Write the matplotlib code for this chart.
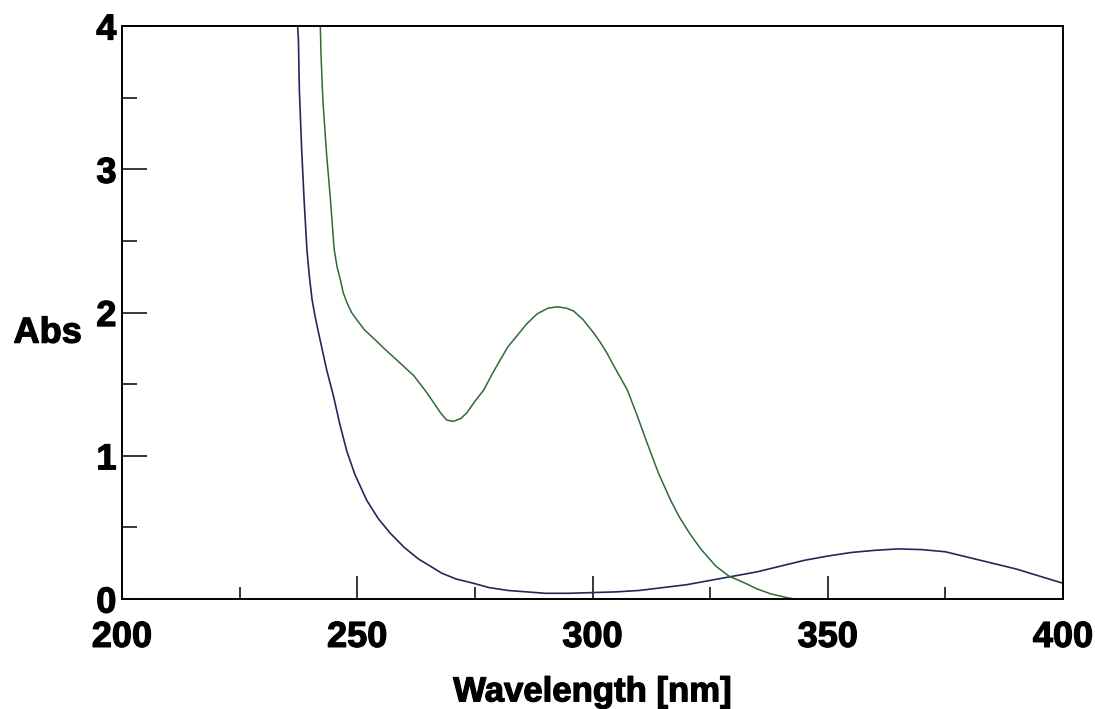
"""
UV-Vis absorbance spectra, two samples, 200-400 nm.
Values read off the reference picture.
"""

import matplotlib
matplotlib.use("Agg")
import matplotlib.pyplot as plt
import matplotlib.patheffects as pe
from matplotlib.ticker import MultipleLocator

# ---------------------------------------------------------------------------
# Data
# ---------------------------------------------------------------------------

blue_nm = [
    237.0, 237.5, 237.7, 238.2, 238.7, 239.3, 239.8, 240.4, 241.0, 241.7,
    242.5, 243.5, 245.0, 246.3, 247.8, 249.5, 252.0, 254.5, 257.0, 260.0,
    263.0, 265.5, 268.0, 271.0, 274.7, 278.0, 282.0, 286.0, 290.0, 295.0,
    300.0, 305.0, 310.0, 315.0, 320.0, 325.0, 330.0, 335.0, 340.0, 345.0,
    350.0, 355.0, 360.0, 365.0, 370.0, 375.0, 380.0, 385.0, 390.0, 395.0,
    400.0,
]
blue_abs = [
    4.20, 3.90, 3.55, 3.13, 2.79, 2.44, 2.26, 2.09, 1.98, 1.87,
    1.75, 1.60, 1.41, 1.22, 1.03, 0.87, 0.69, 0.56, 0.46, 0.36,
    0.28, 0.23, 0.18, 0.14, 0.11, 0.08, 0.06, 0.05, 0.04, 0.04,
    0.045, 0.05, 0.06, 0.08, 0.10, 0.13, 0.16, 0.19, 0.23, 0.27,
    0.30, 0.325, 0.34, 0.35, 0.345, 0.33, 0.29, 0.25, 0.21, 0.16,
    0.11,
]

green_nm = [
    242.0, 242.3, 242.7, 243.5, 244.3, 245.1, 245.7, 246.4, 247.0, 247.8,
    248.8, 249.9, 251.5, 253.8, 256.0, 257.7, 260.0, 262.0, 264.8, 267.7,
    269.0, 270.4, 272.0, 273.3, 275.0, 276.9, 278.5, 280.4, 282.0, 284.0,
    286.0, 288.2, 290.5, 292.5, 294.5, 296.0, 298.0, 300.3, 301.7, 303.1,
    305.0, 307.4, 309.5, 311.6, 314.0, 316.6, 318.5, 320.6, 323.0, 326.2,
    329.0, 332.5, 335.0, 338.0, 341.3, 343.0,
]
green_abs = [
    4.20, 3.80, 3.48, 3.10, 2.79, 2.44, 2.32, 2.23, 2.14, 2.07,
    2.00, 1.95, 1.88, 1.81, 1.74, 1.69, 1.62, 1.56, 1.44, 1.30,
    1.25, 1.24, 1.26, 1.30, 1.38, 1.46, 1.56, 1.67, 1.76, 1.84,
    1.92, 1.99, 2.03, 2.04, 2.03, 2.01, 1.95, 1.855, 1.79, 1.715,
    1.60, 1.46, 1.28, 1.09, 0.88, 0.69, 0.57, 0.46, 0.35, 0.23,
    0.16, 0.11, 0.07, 0.035, 0.01, 0.0,
]

# ---------------------------------------------------------------------------
# Style
# ---------------------------------------------------------------------------

BLUE  = "#26265c"
GREEN = "#2e6b34"
FONT  = ["Liberation Sans", "DejaVu Sans"]
HEAVY = [pe.withStroke(linewidth=0.9, foreground="black")]

plt.rcParams["font.family"] = FONT
plt.rcParams["font.weight"] = "bold"

# ---------------------------------------------------------------------------
# Plot
# ---------------------------------------------------------------------------

fig = plt.figure(figsize=(10.95, 7.09), dpi=100)
ax = fig.add_axes([0.1114, 0.1551, 0.8594, 0.8082])

ax.plot(blue_nm, blue_abs, color=BLUE, linewidth=1.2)
ax.plot(green_nm, green_abs, color=GREEN, linewidth=1.1)

ax.set_xlim(200, 400)
ax.set_ylim(0, 4)

ax.xaxis.set_major_locator(MultipleLocator(50))
ax.xaxis.set_minor_locator(MultipleLocator(25))
ax.yaxis.set_major_locator(MultipleLocator(1))
ax.yaxis.set_minor_locator(MultipleLocator(0.5))

for spine in ax.spines.values():
    spine.set_linewidth(1.4)
    spine.set_color("black")

ax.tick_params(axis="x", which="major", direction="in", length=16.5,
               width=1.1, pad=15, labelsize=26)
ax.tick_params(axis="x", which="minor", direction="in", length=8.6, width=1.1)
ax.tick_params(axis="y", which="major", direction="in", length=18,
               width=1.1, pad=4, labelsize=26)
ax.tick_params(axis="y", which="minor", direction="in", length=10.8, width=1.1)

for lbl in ax.get_xticklabels() + ax.get_yticklabels():
    lbl.set_fontweight("bold")
    lbl.set_path_effects(HEAVY)

ax.set_xlabel("Wavelength [nm]", fontsize=25, fontweight="bold", va="center",
              path_effects=HEAVY)
ax.xaxis.set_label_coords(0.5, -0.162)
ax.set_ylabel("Abs", fontsize=26, fontweight="bold", rotation=0,
              ha="center", va="center", path_effects=HEAVY)
ax.yaxis.set_label_coords(-0.079, 0.464)

fig.savefig("out.png", dpi=100, facecolor="white")
